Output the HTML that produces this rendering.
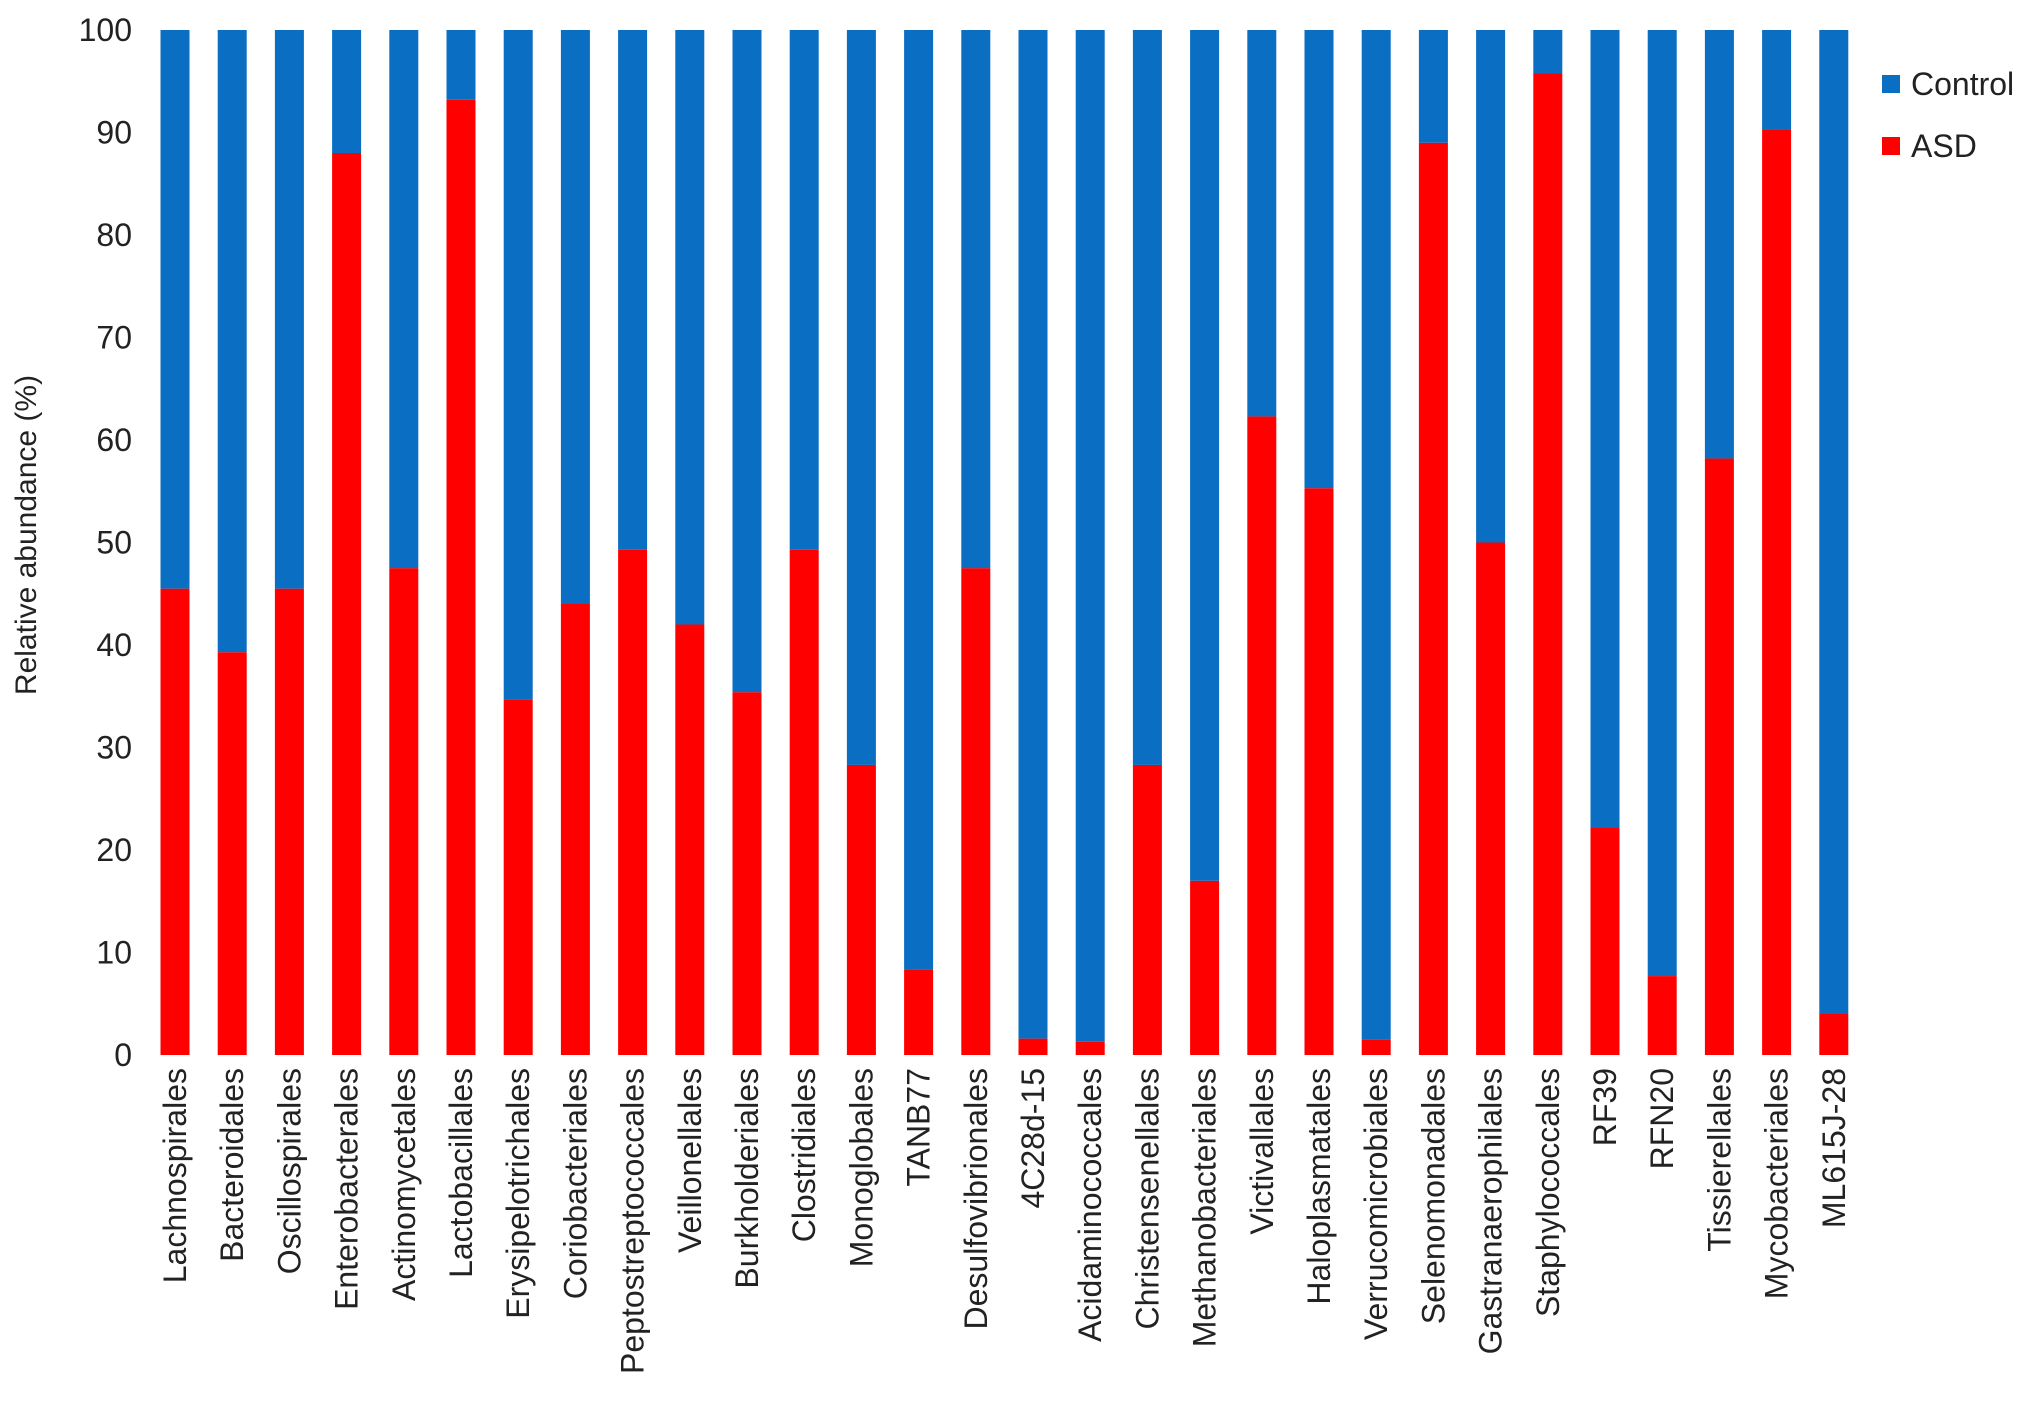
<!DOCTYPE html>
<html><head><meta charset="utf-8"><style>
html,body{margin:0;padding:0;background:#fff;}
svg{display:block;font-family:"Liberation Sans",Arial,sans-serif;}
</style></head><body>
<svg id="chart" width="2032" height="1404" viewBox="0 0 2032 1404" xmlns="http://www.w3.org/2000/svg">
<text transform="translate(36,535) rotate(-90)" text-anchor="middle" font-size="30" fill="#222">Relative abundance (%)</text>
<g>
<rect x="1882" y="75" width="18" height="18" fill="#0a6fc2"/>
<text x="1911" y="95" font-size="32" fill="#222">Control</text>
<rect x="1882" y="137" width="18" height="18" fill="#ff0000"/>
<text x="1911" y="157" font-size="32" fill="#222">ASD</text>
</g>
<g id="bars"></g><g id="yt"></g><g id="xt"></g>
</svg>
<script>
const categories = ["Lachnospirales","Bacteroidales","Oscillospirales","Enterobacterales","Actinomycetales","Lactobacillales","Erysipelotrichales","Coriobacteriales","Peptostreptococcales","Veillonellales","Burkholderiales","Clostridiales","Monoglobales","TANB77","Desulfovibrionales","4C28d-15","Acidaminococcales","Christensenellales","Methanobacteriales","Victivallales","Haloplasmatales","Verrucomicrobiales","Selenomonadales","Gastranaerophilales","Staphylococcales","RF39","RFN20","Tissierellales","Mycobacteriales","ML615J-28"];
const asdValues = [45.5,39.3,45.5,88,47.5,93.2,34.7,44,49.3,42,35.4,49.3,28.3,8.3,47.5,1.6,1.3,28.3,17,62.3,55.3,1.5,89,50,95.8,22.2,7.7,58.2,90.3,4];
const controlValues = asdValues.map(v => 100 - v);
const yTicks = [0,10,20,30,40,50,60,70,80,90,100];

const NS = "http://www.w3.org/2000/svg";
const y0 = 1055, y1 = 30, x0 = 175, step = 57.2, bw = 29;
const yScale = v => y0 - (v / 100) * (y0 - y1);
const xScale = i => x0 + i * step;
function mk(tag, attrs, parent){const e=document.createElementNS(NS,tag);for(const k in attrs)e.setAttribute(k,attrs[k]);parent.appendChild(e);return e;}
const bars=document.getElementById('bars'), yt=document.getElementById('yt'), xt=document.getElementById('xt');
categories.forEach((c,i)=>{
  const cx = xScale(i);
  const a = asdValues[i], b = controlValues[i];
  const r1 = mk('rect',{x:cx-bw/2,y:yScale(a),width:bw,height:y0-yScale(a),fill:'#ff0000'},bars);
  
  
  const r2 = mk('rect',{x:cx-bw/2,y:yScale(a+b),width:bw,height:yScale(a)-yScale(a+b),fill:'#0a6fc2'},bars);
  
  
  const t = mk('text',{transform:`translate(${cx+11},1068) rotate(-90)`,'text-anchor':'end','font-size':'32',fill:'#222'},xt);
  t.textContent=c;
  
  
});
yTicks.forEach(v=>{
  const t = mk('text',{x:132,y:yScale(v)+11,'text-anchor':'end','font-size':'32',fill:'#222'},yt);
  t.textContent=v;
  
  
});
</script>
</body></html>
